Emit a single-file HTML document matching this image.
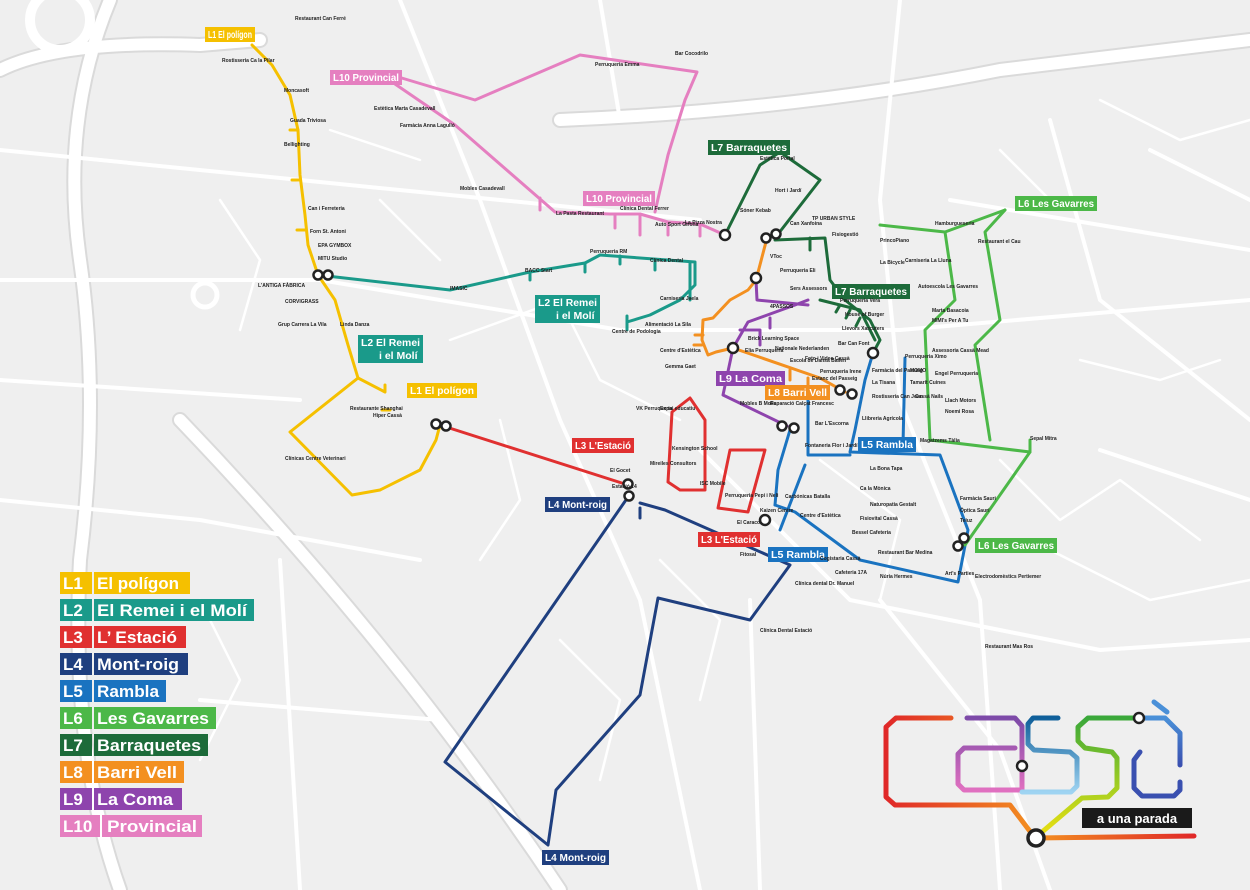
<!DOCTYPE html>
<html><head><meta charset="utf-8"><style>
html,body{margin:0;padding:0;background:#efefef;}
svg{display:block;font-family:"Liberation Sans",sans-serif;}
.rd{fill:none;stroke:#fff;stroke-linecap:round;stroke-linejoin:round}
.ro{fill:none;stroke:#dadada;stroke-linecap:round;stroke-linejoin:round}
.ln{fill:none;stroke-width:3;stroke-linejoin:round;stroke-linecap:round}
.st{font-size:5px;fill:#222;font-weight:bold}
.lb{font-size:10.5px;font-weight:bold;fill:#fff}
.stn{fill:#fff;stroke:#222;stroke-width:2.5}
.lg{font-size:17px;font-weight:bold;fill:#fff}
</style></head><body>
<svg width="1250" height="890" viewBox="0 0 1250 890" xmlns="http://www.w3.org/2000/svg">
<rect width="1250" height="890" fill="#efefef"/>
<g class="ro" stroke-width="16">
<path d="M0,70 Q60,40 200,45 L260,40"/>
<path d="M110,0 Q60,120 80,260 Q100,400 80,560 Q70,750 120,890"/>
<path d="M180,420 Q400,650 560,890"/>
<path d="M560,120 Q800,110 1000,70 L1250,40"/>
</g>
<g class="rd" stroke-width="12">
<path d="M0,70 Q60,40 200,45 L260,40"/>
<path d="M110,0 Q60,120 80,260 Q100,400 80,560 Q70,750 120,890"/>
<path d="M180,420 Q400,650 560,890"/>
<path d="M560,120 Q800,110 1000,70 L1250,40"/>
</g>
<circle cx="60" cy="20" r="30" fill="none" stroke="#fff" stroke-width="10"/>
<circle cx="205" cy="295" r="12" fill="none" stroke="#fff" stroke-width="5"/>
<g class="rd" stroke-width="4">
<path d="M0,280 L320,280 L620,330 L900,330 L1250,300"/>
<path d="M0,150 L300,180 L500,200 L700,220"/>
<path d="M400,0 L480,200 L560,420 L640,600 L700,890"/>
<path d="M900,0 L880,200 L900,400 L980,600 L1000,890"/>
<path d="M1050,120 L1100,300 L1250,420"/>
<path d="M700,450 L850,600 L1100,650 L1250,640"/>
<path d="M0,500 L200,520 L420,560"/>
<path d="M750,600 L760,890"/>
<path d="M1100,450 L1250,500"/>
<path d="M280,560 L300,890"/>
<path d="M0,380 L300,400"/>
<path d="M600,0 L620,120"/>
<path d="M1150,150 L1250,200"/>
<path d="M880,600 L1000,750 L1050,890"/>
<path d="M200,700 L440,720"/>
<path d="M950,200 L1250,250"/>
</g>
<g class="rd" stroke-width="2.5">
<path d="M450,340 L560,300 L600,380 L680,420"/>
<path d="M500,420 L520,500 L480,560"/>
<path d="M820,460 L900,520 L880,600"/>
<path d="M1050,550 L1150,600 L1250,580"/>
<path d="M1000,460 L1060,520 L1120,480 L1200,540"/>
<path d="M660,560 L720,620 L700,700"/>
<path d="M560,640 L620,700 L600,780"/>
<path d="M220,200 L260,260 L240,330"/>
<path d="M380,200 L440,260"/>
<path d="M1100,100 L1180,140 L1250,120"/>
<path d="M1080,360 L1160,380 L1220,360"/>
<path d="M200,600 L240,680 L200,760"/>
<path d="M330,130 L420,160"/>
<path d="M1000,150 L1050,200"/>
</g>

<g stroke="#e57fc0" class="ln">
<path d="M395,76 L475,100 L580,55 L697,72 L685,100 L668,155 L660,190 L655,212"/>
<path d="M395,84 L455,125 L555,212 L610,214 L640,214 L668,222 L700,224 L725,235"/>
<path d="M640,214 L640,235 M615,214 L615,228 M668,222 L668,235 M700,224 L700,236 M540,198 L540,210"/>
</g>
<g stroke="#f5c000" class="ln">
<path d="M252,45 L272,65 L290,95 L298,130 L300,175 L305,215 L308,245 L318,275 L335,300 L348,345 L358,378 L290,432 L352,495 L380,490 L420,470 L436,440 L440,425"/>
<path d="M358,378 L385,392 L385,385 M382,410 L390,410 M300,180 L292,180 M305,230 L297,230 M298,130 L290,130"/>
</g>
<g stroke="#1a9a8a" class="ln">
<path d="M318,275 L450,290 L530,272 L585,263 L600,255 L695,262 L695,285 L680,300 L650,315 L627,322"/>
<path d="M627,316 L627,330 M655,262 L655,270 M620,256 L620,264 M690,262 L690,300 M585,263 L585,272 M530,272 L530,280"/>
</g>
<g stroke="#e03030" class="ln">
<path d="M440,425 L628,485"/>
<path d="M668,482 L672,412 L690,398 L705,420 L705,490 L680,490 L668,482"/>
<path d="M718,508 L730,450 L765,450 L748,512 L718,508"/>
</g>
<g stroke="#1f3f7f" class="ln">
<path d="M628,497 L445,762 L548,845 L556,790 L640,695 L658,598 L750,620 L790,565 L665,510 L640,503"/>
<path d="M640,508 L640,518"/>
</g>
<g stroke="#1a73c0" class="ln">
<path d="M873,353 L865,380 L855,430 L850,452 L940,455 L968,530 L958,582 L860,560 L795,512 L775,505"/>
<path d="M905,358 L903,445 M808,400 L808,455 L850,455 M790,430 L778,470 L775,505 M805,465 L780,530"/>
</g>
<g stroke="#4cb848" class="ln">
<path d="M1005,210 L945,232 L955,300 L925,330 L930,440 L1030,452 L965,545"/>
<path d="M1005,210 L985,232 L1000,320 L975,345 L990,440"/>
<path d="M880,225 L945,232 M1030,452 L1030,440"/>
</g>
<g stroke="#1d6b3a" class="ln">
<path d="M725,235 L760,165 L780,152 L820,180 L775,238"/>
<path d="M775,240 L825,238 L830,280 L845,300 L870,320 L880,340 L873,353"/>
<path d="M820,300 L860,310 L875,340"/>
<path d="M810,238 L810,250 M840,305 L836,312 M850,310 L846,318 M860,318 L856,326"/>
</g>
<g stroke="#8e44ad" class="ln">
<path d="M756,280 L757,300 L808,305"/>
<path d="M733,348 L748,322 L795,305 L808,300"/>
<path d="M733,348 L723,395 L787,426"/>
<path d="M740,330 L760,330 L760,345 M770,318 L770,328"/>
</g>
<g stroke="#f39020" class="ln">
<path d="M767,238 L756,280 L748,290 L730,300 L713,318 L703,320 L702,340 L708,355 L716,352 L733,348"/>
<path d="M733,348 L820,378 L845,392"/>
<path d="M703,335 L695,335 M702,345 L694,345 M790,370 L790,380 M808,378 L808,388"/>
</g>

<g>
<circle class="stn" cx="318" cy="275" r="4.5"/><circle class="stn" cx="328" cy="275" r="4.5"/>
<circle class="stn" cx="436" cy="424" r="4.5"/><circle class="stn" cx="446" cy="426" r="4.5"/>
<circle class="stn" cx="628" cy="484" r="4.5"/><circle class="stn" cx="629" cy="496" r="4.5"/>
<circle class="stn" cx="725" cy="235" r="5"/>
<circle class="stn" cx="766" cy="238" r="4.5"/><circle class="stn" cx="776" cy="234" r="4.5"/>
<circle class="stn" cx="756" cy="278" r="5"/>
<circle class="stn" cx="733" cy="348" r="5"/>
<circle class="stn" cx="840" cy="390" r="4.5"/><circle class="stn" cx="852" cy="394" r="4.5"/>
<circle class="stn" cx="782" cy="426" r="4.5"/><circle class="stn" cx="794" cy="428" r="4.5"/>
<circle class="stn" cx="873" cy="353" r="5"/>
<circle class="stn" cx="765" cy="520" r="5"/>
<circle class="stn" cx="958" cy="546" r="4.5"/><circle class="stn" cx="964" cy="538" r="4.5"/>
</g>

<g>
<rect x="205" y="27" width="50" height="15" fill="#f5c000"/><text class="lb" x="208" y="38" textLength="44" lengthAdjust="spacingAndGlyphs">L1 El polígon</text>
<rect x="407" y="383" width="70" height="15" fill="#f5c000"/><text class="lb" x="410" y="394" textLength="64" lengthAdjust="spacingAndGlyphs">L1  El polígon</text>
<rect x="330" y="70" width="72" height="15" fill="#e57fc0"/><text class="lb" x="333" y="81" textLength="66" lengthAdjust="spacingAndGlyphs">L10 Provincial</text>
<rect x="583" y="191" width="72" height="15" fill="#e57fc0"/><text class="lb" x="586" y="202" textLength="66" lengthAdjust="spacingAndGlyphs">L10 Provincial</text>
<rect x="535" y="295" width="65" height="28" fill="#1a9a8a"/><text class="lb" x="538" y="306" textLength="59" lengthAdjust="spacingAndGlyphs">L2  El Remei</text><text class="lb" x="556" y="319">i el Molí</text>
<rect x="358" y="335" width="65" height="28" fill="#1a9a8a"/><text class="lb" x="361" y="346" textLength="59" lengthAdjust="spacingAndGlyphs">L2  El Remei</text><text class="lb" x="379" y="359">i el Molí</text>
<rect x="708" y="140" width="82" height="15" fill="#1d6b3a"/><text class="lb" x="711" y="151" textLength="76" lengthAdjust="spacingAndGlyphs">L7  Barraquetes</text>
<rect x="832" y="284" width="78" height="15" fill="#1d6b3a"/><text class="lb" x="835" y="295" textLength="72" lengthAdjust="spacingAndGlyphs">L7  Barraquetes</text>
<rect x="1015" y="196" width="82" height="15" fill="#4cb848"/><text class="lb" x="1018" y="207" textLength="76" lengthAdjust="spacingAndGlyphs">L6  Les Gavarres</text>
<rect x="975" y="538" width="82" height="15" fill="#4cb848"/><text class="lb" x="978" y="549" textLength="76" lengthAdjust="spacingAndGlyphs">L6  Les Gavarres</text>
<rect x="716" y="371" width="69" height="15" fill="#8e44ad"/><text class="lb" x="719" y="382" textLength="63" lengthAdjust="spacingAndGlyphs">L9  La Coma</text>
<rect x="765" y="385" width="65" height="15" fill="#f39020"/><text class="lb" x="768" y="396" textLength="59" lengthAdjust="spacingAndGlyphs">L8  Barri Vell</text>
<rect x="572" y="438" width="62" height="15" fill="#e03030"/><text class="lb" x="575" y="449" textLength="56" lengthAdjust="spacingAndGlyphs">L3  L'Estació</text>
<rect x="698" y="532" width="62" height="15" fill="#e03030"/><text class="lb" x="701" y="543" textLength="56" lengthAdjust="spacingAndGlyphs">L3  L'Estació</text>
<rect x="545" y="497" width="65" height="15" fill="#1f3f7f"/><text class="lb" x="548" y="508" textLength="59" lengthAdjust="spacingAndGlyphs">L4  Mont-roig</text>
<rect x="542" y="850" width="67" height="15" fill="#1f3f7f"/><text class="lb" x="545" y="861" textLength="61" lengthAdjust="spacingAndGlyphs">L4  Mont-roig</text>
<rect x="858" y="437" width="58" height="15" fill="#1a73c0"/><text class="lb" x="861" y="448" textLength="52" lengthAdjust="spacingAndGlyphs">L5  Rambla</text>
<rect x="768" y="547" width="60" height="15" fill="#1a73c0"/><text class="lb" x="771" y="558" textLength="54" lengthAdjust="spacingAndGlyphs">L5  Rambla</text>
</g>

<g class="st">
<text x="295" y="20">Restaurant Can Ferré</text><text x="222" y="62">Rostisseria Ca la Pilar</text>
<text x="284" y="92">Moncasoft</text><text x="290" y="122">Guada Triviosa</text><text x="284" y="146">Bellighting</text>
<text x="308" y="210">Can i Ferreteria</text><text x="310" y="233">Forn St. Antoni</text><text x="318" y="247">EPA GYMBOX</text><text x="318" y="260">MITU Studio</text>
<text x="258" y="287">L'ANTIGA FÀBRICA</text><text x="285" y="303">CORVIGRASS</text><text x="278" y="326">Grup Carrera La Vila</text><text x="340" y="326">Linda Danza</text>
<text x="350" y="410">Restaurante Shanghai</text><text x="373" y="417">Hiper Cassà</text><text x="285" y="460">Clínicas Centre Veterinari</text>
<text x="374" y="110">Estètica Marta Casadevall</text><text x="400" y="127">Farmàcia Anna Lagulló</text><text x="460" y="190">Mobles Casadevall</text>
<text x="595" y="66">Perruqueria Emma</text><text x="675" y="55">Bar Cocodrilo</text>
<text x="556" y="215">La Pasta Restaurant</text><text x="620" y="210">Clínica Dental Ferrer</text><text x="655" y="226">Auto Sport Girona</text><text x="685" y="224">La Pizza Nostra</text>
<text x="450" y="290">IMASIC</text><text x="525" y="272">BACC Start</text><text x="590" y="253">Perruqueria RM</text><text x="650" y="262">Clínica Dental</text>
<text x="612" y="333">Centre de Podologia</text><text x="645" y="326">Alimentació La Sila</text><text x="660" y="300">Carniseria Jaela</text>
<text x="760" y="160">Estètica Portal</text><text x="775" y="192">Hort i Jardí</text><text x="740" y="212">Sóner Kebab</text><text x="790" y="225">Can Xanfoina</text><text x="812" y="220">TP URBAN STYLE</text><text x="832" y="236">Fisiogestió</text>
<text x="770" y="258">VToc</text><text x="780" y="272">Perruqueria Eli</text><text x="790" y="290">Sers Assessors</text><text x="770" y="308">4PASSOS</text>
<text x="840" y="302">Perruqueria Vera</text><text x="845" y="316">House of Burger</text><text x="842" y="330">Llevors Xarcuters</text><text x="838" y="345">Bar Can Font</text>
<text x="805" y="360">Foto i Video Cassà</text><text x="820" y="373">Perruqueria Irene</text><text x="812" y="380">Estanc del Passeig</text>
<text x="872" y="372">Farmàcia del Passeig</text><text x="872" y="384">La Tisana</text><text x="872" y="398">Rostisseria Can Joan</text><text x="862" y="420">Llibreria Agrícola</text>
<text x="905" y="358">Perruqueria Ximo</text><text x="910" y="372">MOMO</text><text x="910" y="384">Tamarit Cuines</text><text x="915" y="398">Cassà Nails</text>
<text x="932" y="352">Assessoria Cassà Mead</text><text x="935" y="375">Engel Perruqueria</text><text x="945" y="402">Llach Motors</text><text x="945" y="413">Noemi Rosa</text>
<text x="932" y="312">Marta Basacoia</text><text x="932" y="322">MIMI's Per A Tu</text><text x="880" y="264">La Bicycle</text><text x="880" y="242">PrincoPiano</text>
<text x="935" y="225">Hamburgueseria</text><text x="978" y="243">Restaurant el Cau</text><text x="905" y="262">Carniseria La Lluna</text><text x="918" y="288">Autoescola Les Gavarres</text>
<text x="1030" y="440">Sepal Mitra</text><text x="960" y="500">Farmàcia Sauri</text><text x="960" y="512">Òptica Sauri</text><text x="960" y="522">Teiuz</text>
<text x="920" y="442">Magatzems Tàlia</text><text x="870" y="470">La Bona Tapa</text><text x="860" y="490">Ca la Mònica</text><text x="870" y="506">Naturopatia Gestalt</text><text x="860" y="520">Fisiovital Cassà</text><text x="852" y="534">Bessel Cafeteria</text>
<text x="878" y="554">Restaurant Bar Medina</text><text x="820" y="560">Cogistaria Cassà</text><text x="835" y="574">Cafeteria 17A</text><text x="880" y="578">Núria Hermes</text><text x="945" y="575">Art's Parties</text><text x="975" y="578">Electrodomèstics Pertiemer</text>
<text x="985" y="648">Restaurant Mas Ros</text>
<text x="795" y="585">Clínica dental Dr. Manuel</text><text x="760" y="632">Clínica Dental Estació</text><text x="740" y="556">Fitosal</text>
<text x="660" y="410">Expai educatiu</text><text x="636" y="410">VK Perruqueria</text><text x="672" y="450">Kensington School</text><text x="650" y="465">Mireiles Consultors</text><text x="700" y="485">ISC Mobile</text><text x="725" y="497">Perruqueria Pepi i Neli</text>
<text x="785" y="498">Carbónicas Batalla</text><text x="760" y="512">Kaizen Centre</text><text x="800" y="517">Centre d'Estètica</text><text x="737" y="524">El Caracol</text>
<text x="770" y="405">Reparació Calçat Francesc</text><text x="740" y="405">Mobles B Molla</text><text x="815" y="425">Bar L'Escorna</text><text x="805" y="447">Fontaneria Flor i Jardí</text><text x="790" y="362">Escola de Dansa Bailen</text>
<text x="660" y="352">Centre d'Estètica</text><text x="665" y="368">Gemma Gaet</text><text x="748" y="340">Brick Learning Space</text><text x="745" y="352">Elia Perruqueria</text><text x="775" y="350">Nationale Nederlanden</text><text x="610" y="472">El Gocet</text><text x="612" y="488">Estació 14</text>
</g>

<g>
<rect x="60" y="572" width="32" height="22" fill="#f5c000"/><rect x="94" y="572" width="96" height="22" fill="#f5c000"/><text class="lg" x="63" y="589">L1</text><text class="lg" x="97" y="589" textLength="82" lengthAdjust="spacingAndGlyphs">El polígon</text>
<rect x="60" y="599" width="32" height="22" fill="#1a9a8a"/><rect x="94" y="599" width="160" height="22" fill="#1a9a8a"/><text class="lg" x="63" y="616">L2</text><text class="lg" x="97" y="616" textLength="150" lengthAdjust="spacingAndGlyphs">El Remei i el Molí</text>
<rect x="60" y="626" width="32" height="22" fill="#e03030"/><rect x="94" y="626" width="92" height="22" fill="#e03030"/><text class="lg" x="63" y="643">L3</text><text class="lg" x="97" y="643" textLength="80" lengthAdjust="spacingAndGlyphs">L’ Estació</text>
<rect x="60" y="653" width="32" height="22" fill="#1f3f7f"/><rect x="94" y="653" width="94" height="22" fill="#1f3f7f"/><text class="lg" x="63" y="670">L4</text><text class="lg" x="97" y="670" textLength="82" lengthAdjust="spacingAndGlyphs">Mont-roig</text>
<rect x="60" y="680" width="32" height="22" fill="#1a73c0"/><rect x="94" y="680" width="72" height="22" fill="#1a73c0"/><text class="lg" x="63" y="697">L5</text><text class="lg" x="97" y="697" textLength="62" lengthAdjust="spacingAndGlyphs">Rambla</text>
<rect x="60" y="707" width="32" height="22" fill="#4cb848"/><rect x="94" y="707" width="122" height="22" fill="#4cb848"/><text class="lg" x="63" y="724">L6</text><text class="lg" x="97" y="724" textLength="112" lengthAdjust="spacingAndGlyphs">Les Gavarres</text>
<rect x="60" y="734" width="32" height="22" fill="#1d6b3a"/><rect x="94" y="734" width="114" height="22" fill="#1d6b3a"/><text class="lg" x="63" y="751">L7</text><text class="lg" x="97" y="751" textLength="104" lengthAdjust="spacingAndGlyphs">Barraquetes</text>
<rect x="60" y="761" width="32" height="22" fill="#f39020"/><rect x="94" y="761" width="90" height="22" fill="#f39020"/><text class="lg" x="63" y="778">L8</text><text class="lg" x="97" y="778" textLength="80" lengthAdjust="spacingAndGlyphs">Barri Vell</text>
<rect x="60" y="788" width="32" height="22" fill="#8e44ad"/><rect x="94" y="788" width="88" height="22" fill="#8e44ad"/><text class="lg" x="63" y="805">L9</text><text class="lg" x="97" y="805" textLength="76" lengthAdjust="spacingAndGlyphs">La Coma</text>
<rect x="60" y="815" width="40" height="22" fill="#e57fc0"/><rect x="102" y="815" width="100" height="22" fill="#e57fc0"/><text class="lg" x="63" y="832">L10</text><text class="lg" x="107" y="832" textLength="90" lengthAdjust="spacingAndGlyphs">Provincial</text>
</g>

<defs>
<linearGradient id="gr" x1="0" y1="0" x2="1" y2="0"><stop offset="0" stop-color="#e02828"/><stop offset="1" stop-color="#f39020"/></linearGradient>
<linearGradient id="go" x1="0" y1="0" x2="1" y2="0"><stop offset="0" stop-color="#f39020"/><stop offset="1" stop-color="#e02828"/></linearGradient>
<linearGradient id="gp" x1="0" y1="0" x2="0" y2="1"><stop offset="0" stop-color="#7d4aa8"/><stop offset="1" stop-color="#e070c0"/></linearGradient>
<linearGradient id="gb" x1="0" y1="0" x2="0" y2="1"><stop offset="0" stop-color="#0f5f9a"/><stop offset="1" stop-color="#9fd4f2"/></linearGradient>
<linearGradient id="gg" x1="0" y1="0" x2="0" y2="1"><stop offset="0" stop-color="#3aa83a"/><stop offset="0.6" stop-color="#a8d020"/><stop offset="1" stop-color="#f0e010"/></linearGradient>
<linearGradient id="gbl" x1="0" y1="0" x2="0" y2="1"><stop offset="0" stop-color="#4a90d8"/><stop offset="1" stop-color="#3a50b0"/></linearGradient>
</defs>
<g fill="none" stroke-width="5" stroke-linecap="round" stroke-linejoin="round">
<path d="M951,718 L896,718 L886,727 L886,797 L895,805 L1010,805 L1035,838" stroke="url(#gr)"/>
<path d="M1035,838 L1194,836" stroke="url(#go)"/>
<path d="M967,718 L1015,718 L1022,726 L1022,790 L964,790 L958,784 L958,754 L964,748 L1015,748" stroke="url(#gp)"/>
<path d="M1058,718 L1033,718 L1028,724 L1028,744 L1034,750 L1070,752 L1077,758 L1077,786 L1071,792 L1022,792" stroke="url(#gb)"/>
<path d="M1138,718 L1088,718 L1078,727 L1078,741 L1085,748 L1112,752 L1117,758 L1117,788 L1108,797 L1082,798 L1035,838" stroke="url(#gg)"/>
<path d="M1139,718 L1165,718 L1180,733 L1180,765" stroke="url(#gbl)"/>
<path d="M1154,702 L1167,712" stroke="#4a90d8"/>
<path d="M1180,782 L1180,790 L1174,796 L1142,796 L1134,788 L1134,760 L1140,752" stroke="#3a50b0"/>
</g>
<circle cx="1022" cy="766" r="5" fill="#fff" stroke="#222" stroke-width="2.5"/>
<circle cx="1139" cy="718" r="5" fill="#fff" stroke="#222" stroke-width="2.5"/>
<circle cx="1036" cy="838" r="8" fill="#fff" stroke="#222" stroke-width="3.5"/>
<rect x="1082" y="808" width="110" height="20" fill="#1a1a1a"/>
<text x="1137" y="823" text-anchor="middle" font-size="13" font-weight="bold" fill="#fff">a una parada</text>
</svg>
</body></html>
